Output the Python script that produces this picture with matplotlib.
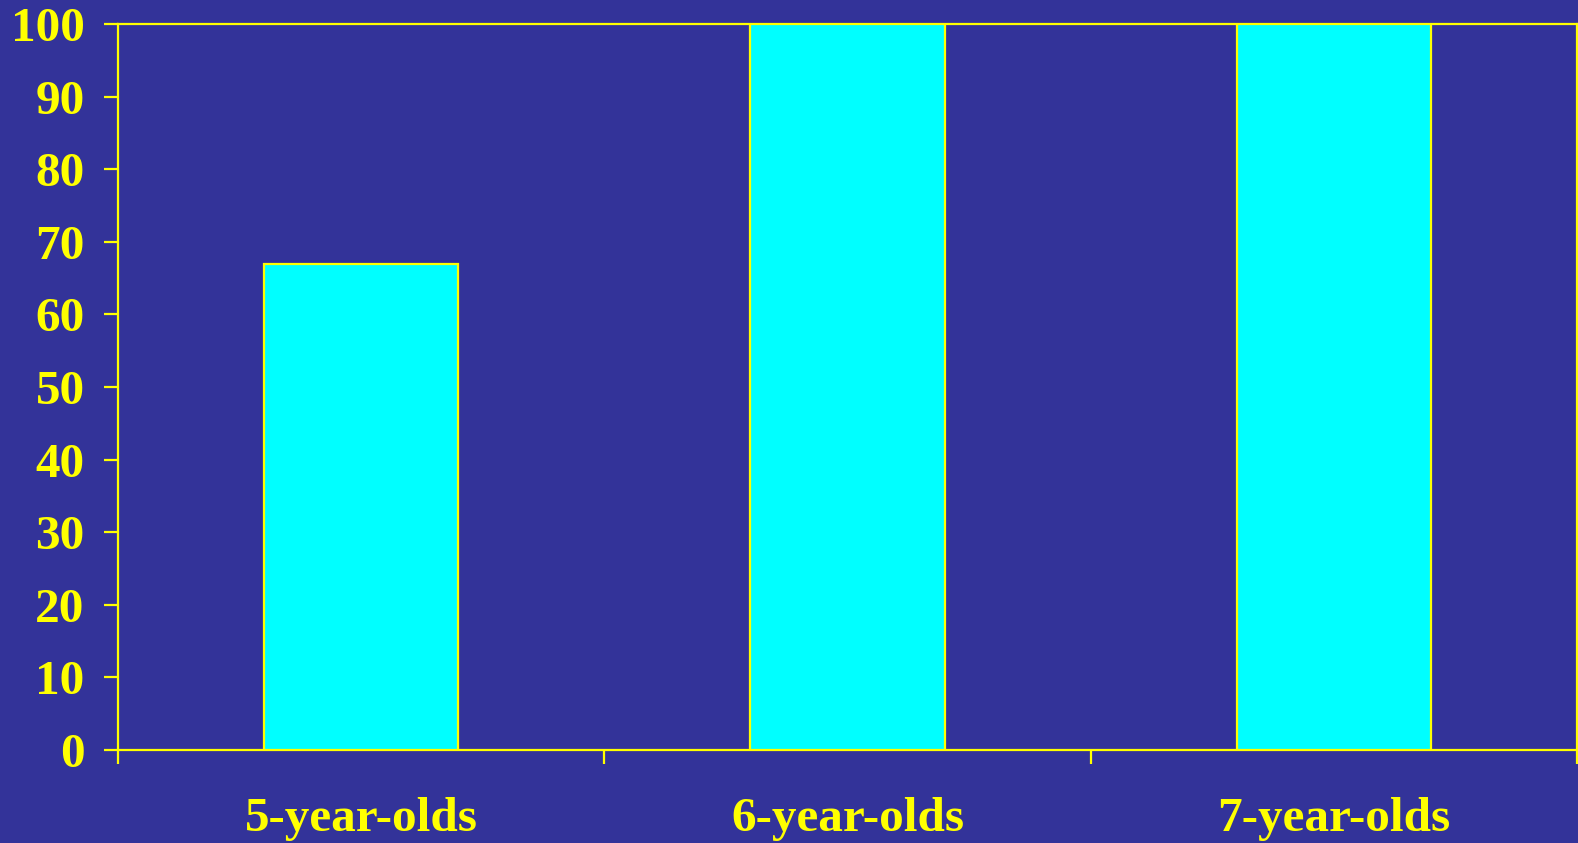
import matplotlib
matplotlib.use("Agg")
import matplotlib.pyplot as plt
import numpy as np

categories = ["5-year-olds", "6-year-olds", "7-year-olds"]
values = [67, 100, 100]
yticks = [0, 10, 20, 30, 40, 50, 60, 70, 80, 90, 100]

BG = "#333399"
BAR = "#00FFFF"
YEL = "#FFFF00"

plt.rcParams["font.family"] = ["Liberation Serif", "DejaVu Serif"]
plt.rcParams["font.weight"] = "bold"

fig = plt.figure(figsize=(15.78, 8.43), dpi=100, facecolor=BG)
ax = fig.add_axes([118 / 1578, 93 / 843, 1459 / 1578, 726 / 843], facecolor=BG)

x = np.arange(len(categories))
ax.bar(x, values, width=0.4, color=BAR, edgecolor=YEL, linewidth=1.6, zorder=3)

ax.set_xlim(-0.5, len(categories) - 0.5)
ax.set_ylim(0, 100)

ax.set_yticks(yticks)
ax.set_yticklabels([str(t) for t in yticks])
ax.set_xticks(x)
ax.set_xticklabels(categories)
ax.set_xticks(np.arange(len(categories) + 1) - 0.5, minor=True)

ax.tick_params(axis="y", which="major", length=10, width=1.6, color=YEL,
               labelcolor=YEL, labelsize=35.5, pad=14)
ax.tick_params(axis="x", which="major", length=0, labelcolor=YEL,
               labelsize=35.5, pad=34)
ax.tick_params(axis="x", which="minor", length=10, width=1.6, color=YEL)

for side in ["left", "bottom", "top", "right"]:
    ax.spines[side].set_color(YEL)
    ax.spines[side].set_linewidth(1.6)

for lbl in ax.get_xticklabels() + ax.get_yticklabels():
    lbl.set_fontweight("bold")

fig.savefig("out.png", dpi=100, facecolor=BG)
